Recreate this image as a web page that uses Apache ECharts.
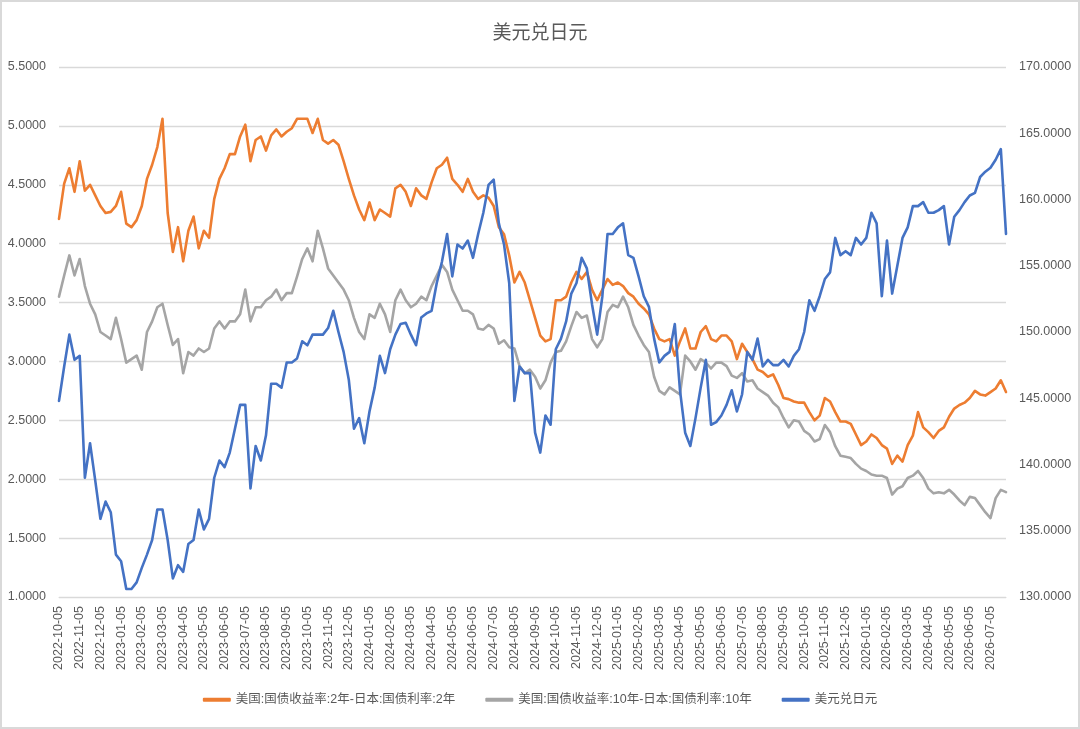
<!DOCTYPE html>
<html>
<head>
<meta charset="utf-8">
<script src="https://cdn.jsdelivr.net/npm/echarts@6/dist/echarts.min.js"></script>
<style>
html,body{margin:0;padding:0;background:#fff;}
#wrap{position:absolute;left:0;top:0;width:1080px;height:729px;box-sizing:border-box;border:2px solid #D9D9D9;}
#chart{position:absolute;left:0;top:0;width:1080px;height:729px;}
</style>
</head>
<body>
<div id="wrap"></div>
<div id="chart"></div>
<script>
// Months covered by the category axis (weekly points on the 5th, 12th, 19th, 26th)
const months = [
  "2022-10","2022-11","2022-12","2023-01","2023-02","2023-03","2023-04","2023-05","2023-06","2023-07","2023-08","2023-09",
  "2023-10","2023-11","2023-12","2024-01","2024-02","2024-03","2024-04","2024-05","2024-06","2024-07","2024-08","2024-09",
  "2024-10","2024-11","2024-12","2025-01","2025-02","2025-03","2025-04","2025-05","2025-06","2025-07","2025-08","2025-09",
  "2025-10","2025-11","2025-12","2026-01","2026-02","2026-03","2026-04","2026-05","2026-06","2026-07"
];
const days = ["05","12","19","26"];

// 美国:国债收益率:2年-日本:国债利率:2年
const spread2y = [
  4.21,4.51,4.64,4.44,4.70,4.45,4.50,4.41,4.32,4.26,4.27,4.32,4.44,4.17,4.14,4.20,
  4.32,4.55,4.67,4.82,5.06,4.26,3.93,4.14,3.85,4.11,4.23,3.96,4.11,4.05,4.38,4.55,
  4.64,4.76,4.76,4.91,5.01,4.70,4.88,4.91,4.79,4.92,4.97,4.91,4.95,4.98,5.06,5.06,
  5.06,4.94,5.06,4.88,4.85,4.88,4.84,4.70,4.55,4.41,4.29,4.20,4.35,4.20,4.29,4.26,
  4.23,4.47,4.50,4.44,4.32,4.47,4.41,4.38,4.52,4.64,4.67,4.73,4.55,4.50,4.44,4.55,
  4.44,4.38,4.41,4.39,4.32,4.14,4.08,3.90,3.67,3.76,3.67,3.52,3.37,3.22,3.17,3.19,
  3.52,3.52,3.55,3.67,3.76,3.70,3.76,3.61,3.52,3.61,3.70,3.65,3.67,3.64,3.58,3.55,
  3.49,3.45,3.40,3.28,3.19,3.17,3.19,3.05,3.17,3.28,3.11,3.11,3.25,3.30,3.19,3.17,
  3.22,3.22,3.17,3.02,3.15,3.08,3.02,2.93,2.91,2.87,2.89,2.80,2.69,2.68,2.66,2.65,
  2.65,2.57,2.50,2.54,2.69,2.66,2.57,2.49,2.49,2.47,2.38,2.29,2.32,2.38,2.35,2.29,
  2.26,2.13,2.20,2.15,2.29,2.37,2.57,2.44,2.40,2.35,2.41,2.44,2.53,2.60,2.63,2.65,
  2.69,2.75,2.72,2.71,2.74,2.77,2.84,2.74
];

// 美国:国债收益率:10年-日本:国债利率:10年
const spread10y = [
  3.55,3.73,3.90,3.73,3.87,3.64,3.49,3.40,3.25,3.22,3.19,3.37,3.19,2.99,3.02,3.05,
  2.93,3.25,3.34,3.46,3.49,3.31,3.14,3.19,2.90,3.08,3.05,3.11,3.08,3.11,3.28,3.34,
  3.28,3.34,3.34,3.40,3.61,3.34,3.46,3.46,3.52,3.55,3.61,3.52,3.58,3.58,3.72,3.87,
  3.96,3.85,4.11,3.96,3.79,3.73,3.67,3.61,3.52,3.37,3.25,3.19,3.40,3.37,3.49,3.40,
  3.25,3.52,3.61,3.52,3.46,3.49,3.55,3.52,3.64,3.73,3.82,3.76,3.61,3.52,3.43,3.43,
  3.40,3.28,3.27,3.31,3.28,3.15,3.18,3.12,3.11,2.96,2.90,2.93,2.87,2.77,2.84,2.99,
  3.08,3.09,3.17,3.30,3.42,3.37,3.39,3.19,3.12,3.19,3.42,3.48,3.46,3.55,3.46,3.31,
  3.22,3.14,3.08,2.87,2.75,2.72,2.78,2.75,2.72,3.05,3.00,2.93,3.02,2.99,2.94,2.99,
  2.99,2.96,2.88,2.86,2.90,2.83,2.84,2.77,2.74,2.71,2.65,2.61,2.52,2.44,2.50,2.49,
  2.41,2.38,2.32,2.34,2.46,2.40,2.28,2.20,2.19,2.18,2.13,2.09,2.07,2.04,2.03,2.03,
  2.01,1.87,1.92,1.94,2.01,2.03,2.07,2.01,1.92,1.88,1.89,1.88,1.91,1.87,1.82,1.78,
  1.85,1.84,1.78,1.72,1.67,1.84,1.91,1.89
];

// 美元兑日元
const usdjpy = [
  144.8,147.4,149.8,147.9,148.2,139.0,141.6,138.8,135.9,137.2,136.4,133.2,132.7,130.6,130.6,131.1,
  132.2,133.2,134.3,136.6,136.6,134.3,131.4,132.4,131.9,134.0,134.3,136.6,135.1,135.9,139.0,140.3,
  139.8,140.9,142.7,144.5,144.5,138.2,141.4,140.3,142.2,146.1,146.1,145.8,147.7,147.7,148.0,149.3,
  149.0,149.8,149.8,149.8,150.3,151.6,150.0,148.5,146.4,142.7,143.5,141.6,144.0,145.8,148.2,146.9,
  148.7,149.8,150.6,150.7,149.8,149.0,151.1,151.4,151.6,153.7,155.3,157.4,154.2,156.6,156.3,156.9,
  155.6,157.4,159.0,161.1,161.5,158.2,156.6,153.7,144.8,147.4,146.9,146.9,142.4,140.9,143.7,143.0,
  148.7,149.5,150.8,152.9,153.7,155.6,154.8,152.1,149.8,152.7,157.4,157.4,157.9,158.2,155.8,155.6,
  154.2,152.7,151.9,149.5,147.7,148.2,148.5,150.6,145.6,142.4,141.4,143.5,145.8,147.9,143.0,143.2,
  143.7,144.5,145.6,144.0,145.3,148.5,147.9,149.5,147.4,147.9,147.5,147.5,147.9,147.4,148.2,148.7,
  150.0,152.4,151.6,152.7,154.0,154.5,157.1,155.8,156.1,155.8,157.1,156.6,157.1,159.0,158.2,152.7,
  156.9,152.9,155.0,157.1,157.9,159.5,159.5,159.8,159.0,159.0,159.2,159.5,156.6,158.7,159.2,159.8,
  160.3,160.5,161.7,162.1,162.4,163.0,163.8,157.4
];

const categories = [];
months.forEach(m => days.forEach(d => categories.push(m + "-" + d)));

const FONT = "'Liberation Sans', 'Noto Sans CJK SC', sans-serif";
const TXT = "#595959";

const chart = echarts.init(document.getElementById('chart'), null, {renderer: 'canvas'});
chart.setOption({
  backgroundColor: 'transparent',
  animation: false,
  title: {
    text: '美元兑日元',
    left: 'center',
    top: 17,
    textStyle: {color: TXT, fontSize: 19, fontWeight: 'normal', fontFamily: "'Noto Sans CJK SC', sans-serif"}
  },
  legend: {
    bottom: 18,
    left: 'center',
    itemGap: 30,
    itemWidth: 28,
    itemHeight: 4,
    icon: 'roundRect',
    textStyle: {color: TXT, fontSize: 12.5, fontFamily: FONT},
    data: ['美国:国债收益率:2年-日本:国债利率:2年', '美国:国债收益率:10年-日本:国债利率:10年', '美元兑日元']
  },
  grid: {left: 59, right: 74, top: 67, bottom: 132, containLabel: false},
  xAxis: {
    type: 'category',
    data: categories,
    boundaryGap: false,
    axisLine: {show: true, lineStyle: {color: '#D9D9D9', width: 1}},
    axisTick: {show: false},
    axisLabel: {
      rotate: 90,
      color: TXT,
      fontSize: 12.5,
      fontFamily: FONT,
      margin: 9,
      interval: (idx) => idx % 4 === 0
    },
    splitLine: {show: false}
  },
  yAxis: [
    {
      type: 'value',
      min: 1, max: 5.5, interval: 0.5,
      position: 'left',
      axisLine: {show: false},
      axisTick: {show: false},
      axisLabel: {color: TXT, fontSize: 12.5, fontFamily: FONT, margin: 13, formatter: v => v.toFixed(4)},
      splitLine: {show: true, lineStyle: {color: '#D9D9D9', width: 1.3}}
    },
    {
      type: 'value',
      min: 130, max: 170, interval: 5,
      position: 'right',
      axisLine: {show: false},
      axisTick: {show: false},
      axisLabel: {color: TXT, fontSize: 12.5, fontFamily: FONT, margin: 13, formatter: v => v.toFixed(4)},
      splitLine: {show: false}
    }
  ],
  series: [
    {
      name: '美国:国债收益率:2年-日本:国债利率:2年',
      type: 'line', yAxisIndex: 0, data: spread2y,
      showSymbol: false, symbol: 'none',
      lineStyle: {color: '#ED7D31', width: 2.6, cap: 'round', join: 'round'},
      itemStyle: {color: '#ED7D31'}
    },
    {
      name: '美国:国债收益率:10年-日本:国债利率:10年',
      type: 'line', yAxisIndex: 0, data: spread10y,
      showSymbol: false, symbol: 'none',
      lineStyle: {color: '#A5A5A5', width: 2.6, cap: 'round', join: 'round'},
      itemStyle: {color: '#A5A5A5'}
    },
    {
      name: '美元兑日元',
      type: 'line', yAxisIndex: 1, data: usdjpy,
      showSymbol: false, symbol: 'none',
      lineStyle: {color: '#4472C4', width: 2.6, cap: 'round', join: 'round'},
      itemStyle: {color: '#4472C4'}
    }
  ]
});
</script>
</body>
</html>
